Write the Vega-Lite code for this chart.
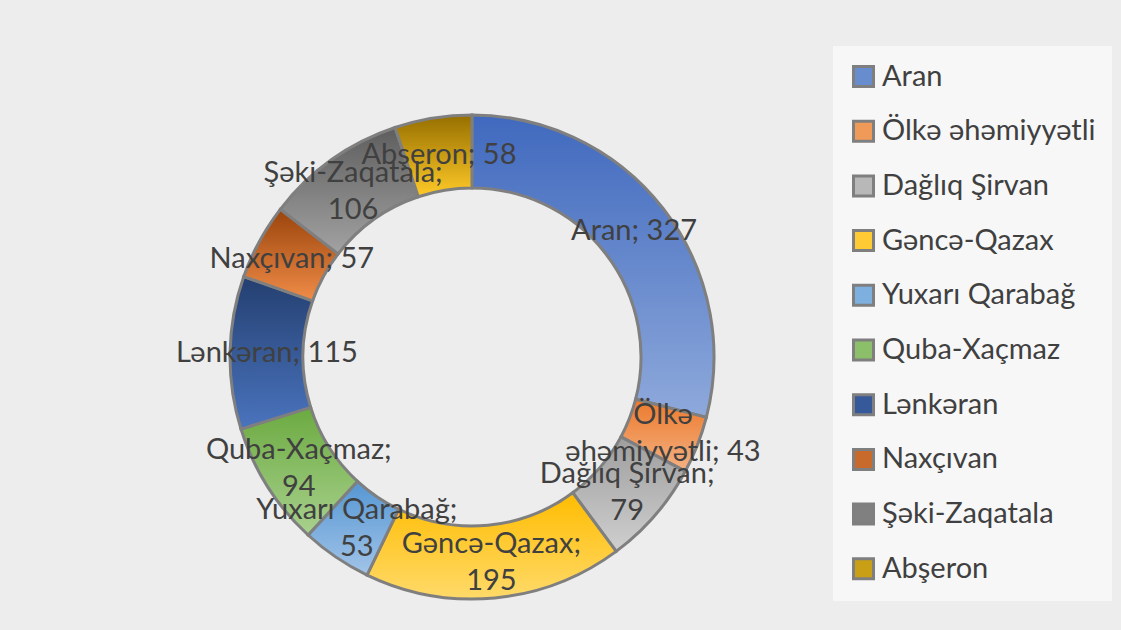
{
  "$schema": "https://vega.github.io/schema/vega-lite/v6.json",
  "width": 930,
  "height": 698,
  "autosize": {"type": "none"},
  "padding": {"left": 7, "top": 8, "right": 184, "bottom": 0},
  "background": "#ededed",
  "config": {"view": {"stroke": null}, "font": "Lato"},
  "data": {
    "values": [
      {"idx": 1, "region": "Aran", "value": 327, "label": "Aran; 327"},
      {"idx": 2, "region": "Ölkə əhəmiyyətli", "value": 43, "label": "Ölkə\nəhəmiyyətli; 43"},
      {"idx": 3, "region": "Dağlıq Şirvan", "value": 79, "label": "Dağlıq Şirvan;\n79"},
      {"idx": 4, "region": "Gəncə-Qazax", "value": 195, "label": "Gəncə-Qazax;\n195"},
      {"idx": 5, "region": "Yuxarı Qarabağ", "value": 53, "label": "Yuxarı Qarabağ;\n53"},
      {"idx": 6, "region": "Quba-Xaçmaz", "value": 94, "label": "Quba-Xaçmaz;\n94"},
      {"idx": 7, "region": "Lənkəran", "value": 115, "label": "Lənkəran; 115"},
      {"idx": 8, "region": "Naxçıvan", "value": 57, "label": "Naxçıvan; 57"},
      {"idx": 9, "region": "Şəki-Zaqatala", "value": 106, "label": "Şəki-Zaqatala;\n106"},
      {"idx": 10, "region": "Abşeron", "value": 58, "label": "Abşeron; 58"}
    ]
  },
  "encoding": {
    "theta": {"field": "value", "type": "quantitative", "stack": true},
    "order": {"field": "idx", "type": "quantitative"}
  },
  "layer": [
    {
      "mark": {"type": "arc", "innerRadius": 169, "outerRadius": 242, "opacity": 0},
      "encoding": {
        "color": {
          "field": "region",
          "type": "nominal",
          "sort": null,
          "scale": {
            "domain": ["Aran", "Ölkə əhəmiyyətli", "Dağlıq Şirvan", "Gəncə-Qazax", "Yuxarı Qarabağ", "Quba-Xaçmaz", "Lənkəran", "Naxçıvan", "Şəki-Zaqatala", "Abşeron"],
            "range": ["#678DCF", "#F09A5A", "#B8B8B8", "#FFCB35", "#7DB0DE", "#8CBF6A", "#36599A", "#C86A2C", "#808080", "#C9A015"]
          },
          "legend": {
            "title": null,
            "orient": "none",
            "legendX": 826,
            "legendY": 38,
            "padding": 16,
            "fillColor": "#f7f7f7",
            "symbolType": "square",
            "symbolSize": 400,
            "symbolStrokeColor": "#7f7f7f",
            "symbolStrokeWidth": 3,
            "symbolOpacity": 1,
            "labelFont": "Lato",
            "labelFontSize": 29,
            "labelColor": "#404040",
            "labelOffset": 4,
            "labelLimit": 400,
            "rowPadding": 21.7
          }
        }
      }
    },
    {
      "mark": {"type": "arc", "innerRadius": 169, "outerRadius": 242, "stroke": "#7f7f7f", "strokeWidth": 3, "opacity": 1},
      "encoding": {
        "fill": {
          "condition": [
            {"test": "datum.idx == 1", "value": {"gradient": "linear", "x1": 0, "y1": 0, "x2": 0, "y2": 1, "stops": [{"offset": 0, "color": "#4069BE"}, {"offset": 1, "color": "#8EA9DB"}]}},
            {"test": "datum.idx == 2", "value": {"gradient": "linear", "x1": 0, "y1": 0, "x2": 0, "y2": 1, "stops": [{"offset": 0, "color": "#EC7A2C"}, {"offset": 1, "color": "#F4B183"}]}},
            {"test": "datum.idx == 3", "value": {"gradient": "linear", "x1": 0, "y1": 0, "x2": 0, "y2": 1, "stops": [{"offset": 0, "color": "#9E9E9E"}, {"offset": 1, "color": "#CFCFCF"}]}},
            {"test": "datum.idx == 4", "value": {"gradient": "linear", "x1": 0, "y1": 0, "x2": 0, "y2": 1, "stops": [{"offset": 0, "color": "#FFBC00"}, {"offset": 1, "color": "#FFDA6A"}]}},
            {"test": "datum.idx == 5", "value": {"gradient": "linear", "x1": 0, "y1": 0, "x2": 0, "y2": 1, "stops": [{"offset": 0, "color": "#5596D3"}, {"offset": 1, "color": "#A2C4E8"}]}},
            {"test": "datum.idx == 6", "value": {"gradient": "linear", "x1": 0, "y1": 0, "x2": 0, "y2": 1, "stops": [{"offset": 0, "color": "#6BAA40"}, {"offset": 1, "color": "#A9D18E"}]}},
            {"test": "datum.idx == 7", "value": {"gradient": "linear", "x1": 0, "y1": 0, "x2": 0, "y2": 1, "stops": [{"offset": 0, "color": "#243F70"}, {"offset": 1, "color": "#4A74BE"}]}},
            {"test": "datum.idx == 8", "value": {"gradient": "linear", "x1": 0, "y1": 0, "x2": 0, "y2": 1, "stops": [{"offset": 0, "color": "#9A440C"}, {"offset": 1, "color": "#F08C48"}]}},
            {"test": "datum.idx == 9", "value": {"gradient": "linear", "x1": 0, "y1": 0, "x2": 0, "y2": 1, "stops": [{"offset": 0, "color": "#5E5E5E"}, {"offset": 1, "color": "#A2A2A2"}]}}
          ],
          "value": {"gradient": "linear", "x1": 0, "y1": 0, "x2": 0, "y2": 1, "stops": [{"offset": 0, "color": "#966F00"}, {"offset": 1, "color": "#FFCA28"}]}
        }
      }
    },
    {
      "mark": {"type": "text", "radius": 205, "font": "Lato", "fontSize": 29, "color": "#404040", "align": "center", "baseline": "middle"},
      "encoding": {
        "text": {"condition": {"test": "indexof(datum.label, '\\n') < 0", "field": "label"}, "value": ""}
      }
    },
    {
      "mark": {"type": "text", "radius": 205, "font": "Lato", "fontSize": 29, "color": "#404040", "lineBreak": "\n", "lineHeight": 37, "align": "center", "baseline": "middle", "dy": -17},
      "encoding": {
        "text": {"condition": {"test": "indexof(datum.label, '\\n') >= 0", "field": "label"}, "value": ""}
      }
    }
  ]
}
